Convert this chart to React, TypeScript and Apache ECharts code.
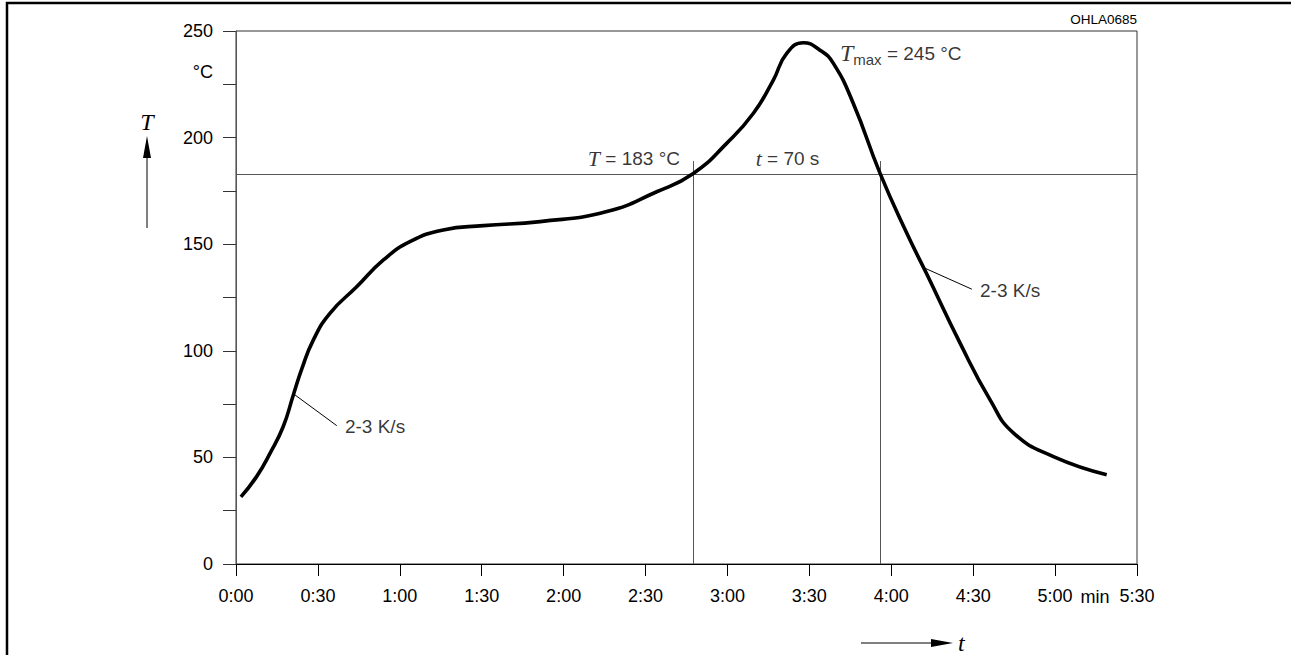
import React, { useEffect, useRef } from "react";
import * as echarts from "echarts";

// time in seconds, temperature in °C
const profileTime = [1.8, 7.6, 12.5, 17.3, 21, 24.1, 28.3, 34.4, 44.2, 54, 63.7, 75.9, 90.6, 111.4, 135.8, 154.1, 167.5, 179.7, 189.5, 196.8, 201.7, 207.8, 213.9, 218.8, 226.1, 235.9, 245.7, 253, 265.2, 276.2, 284.8, 299.4, 318.9];
const profileTemp = [31.5, 41.1, 52, 64.5, 79.3, 91.5, 105, 117.6, 130, 142.6, 151.2, 156.7, 158.7, 160.6, 165.3, 174.6, 183.2, 197.3, 211.4, 227, 239.5, 244.5, 241, 234.8, 216, 183.2, 155.1, 136, 103.6, 77, 61.4, 50.4, 41.9];

const xTicks = [0, 30, 60, 90, 120, 150, 180, 210, 240, 270, 300, 330];
const xTickLabels = ["0:00", "0:30", "1:00", "1:30", "2:00", "2:30", "3:00", "3:30", "4:00", "4:30", "5:00", "5:30"];
const yLabelValues = [0, 50, 100, 150, 200, 250];

const liquidusTemp = 183;
const crossTimes = [167.5, 236];
const crossLineTop = 189;

const leaderLeft = [[21.6, 79.3], [36.9, 64.9]];
const leaderRight = [[252.4, 138.7], [269.5, 128.9]];
const rateLabelLeft = [39.9, 64.5];
const rateLabelRight = [272.5, 128.2];
const tLabelPos = [162.6, 190.4];
const durationLabelPos = [202, 190.4];
const tmaxLabelPos = [221.2, 239.6];

const SANS = "Liberation Sans, Arial, sans-serif";
const SERIF = "Liberation Serif, Times New Roman, serif";

export default function App() {
  const ref = useRef<HTMLDivElement>(null);
  useEffect(() => {
    document.body.style.margin = "0";
    const chart = echarts.init(ref.current!, undefined, { renderer: "svg" });
    const profile = profileTime.map((t, i) => [t, profileTemp[i]]);
    const rich = {
      it: { fontFamily: SERIF, fontStyle: "italic", fontSize: 22, color: "#000" },
      itBig: { fontFamily: SERIF, fontStyle: "italic", fontSize: 24, color: "#000" },
      sub: { fontFamily: SANS, fontSize: 15, color: "#000", padding: [12, 0, 0, 0] },
      n: { fontFamily: SANS, fontSize: 19, color: "#000" },
    };
    chart.setOption({
      animation: false,
      backgroundColor: "#fff",
      grid: {
        left: 236,
        top: 31,
        right: 154,
        bottom: 91,
        show: true,
        borderColor: "#333",
        borderWidth: 1,
        containLabel: false,
        outerBoundsMode: "none",
      },
      xAxis: {
        type: "value",
        min: 0,
        max: 330,
        interval: 30,
        splitLine: { show: false },
        axisLine: { show: true, lineStyle: { color: "#000", width: 1 } },
        axisTick: { show: true, inside: false, length: 12, lineStyle: { color: "#000" } },
        axisLabel: {
          show: true,
          margin: 23,
          verticalAlign: "top",
          color: "#000",
          fontFamily: SANS,
          fontSize: 18,
          showMinLabel: true,
          showMaxLabel: true,
          formatter: (v: number) => {
            const i = xTicks.indexOf(Math.round(v));
            return i >= 0 ? xTickLabels[i] : "";
          },
        },
      },
      yAxis: {
        type: "value",
        min: 0,
        max: 250,
        interval: 25,
        splitLine: { show: false },
        axisLine: { show: true, lineStyle: { color: "#555", width: 1 } },
        axisTick: { show: true, inside: false, length: 13, lineStyle: { color: "#333" } },
        axisLabel: {
          show: true,
          margin: 23,
          color: "#000",
          fontFamily: SANS,
          fontSize: 18,
          formatter: (v: number) => (yLabelValues.indexOf(Math.round(v)) >= 0 ? String(Math.round(v)) : ""),
        },
      },
      series: [
        {
          type: "line",
          data: profile,
          smooth: 0.5,
          showSymbol: false,
          symbol: "none",
          lineStyle: { color: "#000", width: 3.6 },
          z: 5,
          markLine: {
            silent: true,
            symbol: ["none", "none"],
            label: { show: false },
            lineStyle: { color: "#555", width: 1, type: "solid" },
            data: [
              { yAxis: liquidusTemp },
              [{ coord: [crossTimes[0], 0] }, { coord: [crossTimes[0], crossLineTop] }],
              [{ coord: [crossTimes[1], 0] }, { coord: [crossTimes[1], crossLineTop] }],
            ],
          },
        },
        {
          type: "line",
          data: leaderLeft,
          symbol: "none",
          lineStyle: { color: "#000", width: 1 },
        },
        {
          type: "line",
          data: leaderRight,
          symbol: "none",
          lineStyle: { color: "#000", width: 1 },
        },
        {
          type: "scatter",
          symbolSize: 0,
          silent: true,
          z: 10,
          data: [
            {
              value: rateLabelLeft,
              label: { show: true, position: "inside", align: "left", verticalAlign: "middle", formatter: "2-3 K/s", fontFamily: SANS, fontSize: 19, color: "#000" },
            },
            {
              value: rateLabelRight,
              label: { show: true, position: "inside", align: "left", verticalAlign: "middle", formatter: "2-3 K/s", fontFamily: SANS, fontSize: 19, color: "#000" },
            },
            {
              value: tLabelPos,
              label: { show: true, position: "inside", align: "right", verticalAlign: "middle", formatter: "{it|T}{n| = 183 °C}", rich },
            },
            {
              value: durationLabelPos,
              label: { show: true, position: "inside", align: "center", verticalAlign: "middle", formatter: "{it|t}{n| = 70 s}", rich },
            },
            {
              value: tmaxLabelPos,
              label: { show: true, position: "inside", align: "left", verticalAlign: "middle", formatter: "{itBig|T}{sub|max}{n| = 245 °C}", rich },
            },
          ],
        },
      ],
      graphic: [
        {
          type: "polyline",
          shape: { points: [[7, 655], [7, 3], [1291, 3]] },
          style: { stroke: "#000", lineWidth: 2.5, fill: "none" },
        },
        {
          type: "text",
          x: 1137,
          y: 19,
          style: { text: "OHLA0685", fontFamily: SANS, fontSize: 13.5, fill: "#000", align: "right", verticalAlign: "middle" },
        },
        {
          type: "text",
          x: 213,
          y: 72,
          style: { text: "°C", fontFamily: SANS, fontSize: 18, fill: "#000", align: "right", verticalAlign: "middle" },
        },
        {
          type: "text",
          x: 1095,
          y: 597,
          style: { text: "min", fontFamily: SANS, fontSize: 18, fill: "#000", align: "center", verticalAlign: "middle" },
        },
        {
          type: "line",
          shape: { x1: 147, y1: 228, x2: 147, y2: 150 },
          style: { stroke: "#000", lineWidth: 1 },
        },
        {
          type: "polygon",
          shape: { points: [[143, 158], [147, 136], [151, 158]] },
          style: { fill: "#000" },
        },
        {
          type: "text",
          x: 147,
          y: 122,
          style: { text: "T", fontFamily: SERIF, fontStyle: "italic", fontSize: 24, fill: "#000", align: "center", verticalAlign: "middle" },
        },
        {
          type: "line",
          shape: { x1: 861, y1: 643, x2: 940, y2: 643 },
          style: { stroke: "#000", lineWidth: 1 },
        },
        {
          type: "polygon",
          shape: { points: [[931, 639], [953, 643], [931, 647]] },
          style: { fill: "#000" },
        },
        {
          type: "text",
          x: 958,
          y: 643,
          style: { text: "t", fontFamily: SERIF, fontStyle: "italic", fontSize: 24, fill: "#000", align: "left", verticalAlign: "middle" },
        },
      ],
    });
    return () => chart.dispose();
  }, []);
  return <div ref={ref} style={{ width: 1291, height: 655 }} />;
}
